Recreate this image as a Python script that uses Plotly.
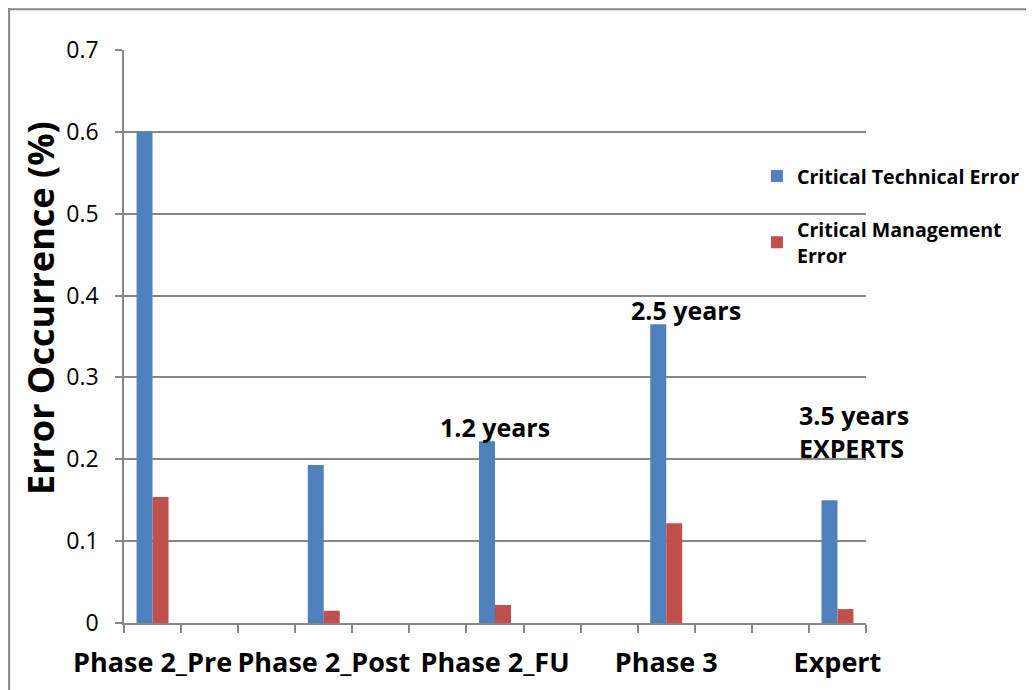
import plotly.graph_objects as go

labels = ["Phase 2_Pre", "Phase 2_Post", "Phase 2_FU", "Phase 3", "Expert"]
technical = [0.600, 0.193, 0.222, 0.365, 0.150]
management = [0.154, 0.015, 0.022, 0.122, 0.017]
y_ticks = [0, 0.1, 0.2, 0.3, 0.4, 0.5, 0.6, 0.7]
y_ticktext = ["0", "0.1", "0.2", "0.3", "0.4", "0.5", "0.6", "0.7"]
notes = [("Phase 2_FU", 0.222, "1.2 years", 0), ("Phase 3", 0.365, "2.5 years", 20)]
expert_note = ("Expert", 0.233, "3.5 years<br>EXPERTS")
y_title = "Error Occurrence (%)"

# category slots: two empty slots between each labelled category
slots = []
for i, lab in enumerate(labels):
    slots.append(lab)
    if i < len(labels) - 1:
        slots += [" " * (2 * i + 1), " " * (2 * i + 2)]

FONT = "Open Sans"
BLUE = "#4F81BD"
RED = "#C0504D"
GRID = "#878787"

# page body has an 8px margin: figure is drawn at (8, 8); extra width on the
# right is simply outside the window, so the legend never squeezes the plot
W, H = 1060, 682
L, T, PW, PH = 116, 42, 742, 573

fig = go.Figure()
fig.add_trace(go.Bar(x=labels, y=technical, name="Critical Technical Error",
                     marker=dict(color=BLUE, line=dict(width=0)), legendgroup="a"))
fig.add_trace(go.Bar(x=labels, y=management, name="Critical Management<br>Error",
                     marker=dict(color=RED, line=dict(width=0)), legendgroup="b"))

for cat, val, txt, dx in notes:
    fig.add_annotation(x=cat, y=val, text=txt, showarrow=False, yanchor="bottom",
                       xshift=dx, yshift=-5,
                       font=dict(family=FONT, size=25, color="black", weight="bold"))
fig.add_annotation(x=expert_note[0], y=expert_note[1], text=expert_note[2], showarrow=False,
                   xanchor="left", xshift=-40, yshift=1, align="left", yanchor="middle",
                   font=dict(family=FONT, size=25, color="black", weight="bold"))

# y-axis title (sits above the plot centre, as in the original)
fig.add_annotation(xref="paper", yref="paper", x=(40 - 124) / PW, y=(623 - 308) / PH,
                   text=y_title, textangle=-90, showarrow=False,
                   xanchor="center", yanchor="middle",
                   font=dict(family=FONT, size=36, color="black", weight="bold"))

# outer frame of the chart (left and top edges)
fig.add_shape(type="line", xref="paper", yref="paper",
              x0=(8 - 124) / PW + 0.0015, x1=(8 - 124) / PW + 0.0015,
              y0=(623 - 700) / PH, y1=(623 - 8) / PH,
              line=dict(color=GRID, width=2))
fig.add_shape(type="line", xref="paper", yref="paper",
              x0=(8 - 124) / PW, x1=(1060 - 124) / PW,
              y0=(623 - 8) / PH - 0.002, y1=(623 - 8) / PH - 0.002,
              line=dict(color=GRID, width=2))

fig.update_layout(
    width=W, height=H, autosize=False,
    margin=dict(l=L, r=W - L - PW, t=T, b=H - T - PH),
    paper_bgcolor="white", plot_bgcolor="white",
    barmode="group", bargap=0.44, bargroupgap=0,
    font=dict(family=FONT, color="black"),
    showlegend=True,
    legend=dict(x=0.853, y=0.8135, xanchor="left", yanchor="top",
                bgcolor="rgba(0,0,0,0)", tracegroupgap=25,
                font=dict(family=FONT, size=19.6, color="black", weight="bold")),
    xaxis=dict(type="category", categoryorder="array", categoryarray=slots,
               range=[-0.5, len(slots) - 0.5], automargin=False,
               tickson="boundaries", ticks="outside", ticklen=8, tickcolor=GRID, tickwidth=1.5,
               tickangle=0, ticklabelstandoff=15,
               showline=True, linecolor=GRID, linewidth=1.5, showgrid=False,
               tickfont=dict(family=FONT, size=27, color="black", weight="bold"),
               fixedrange=True),
    yaxis=dict(range=[0, 0.7], tickvals=y_ticks, ticktext=y_ticktext, automargin=False,
               ticks="outside", ticklen=7, tickcolor=GRID, tickwidth=1.5,
               ticklabelstandoff=12,
               showline=True, linecolor=GRID, linewidth=1.5,
               showgrid=True, gridcolor=GRID, gridwidth=1.5, zeroline=False,
               tickfont=dict(family=FONT, size=23, color="black")),
)

fig.write_html("out.html", config={"responsive": False})
